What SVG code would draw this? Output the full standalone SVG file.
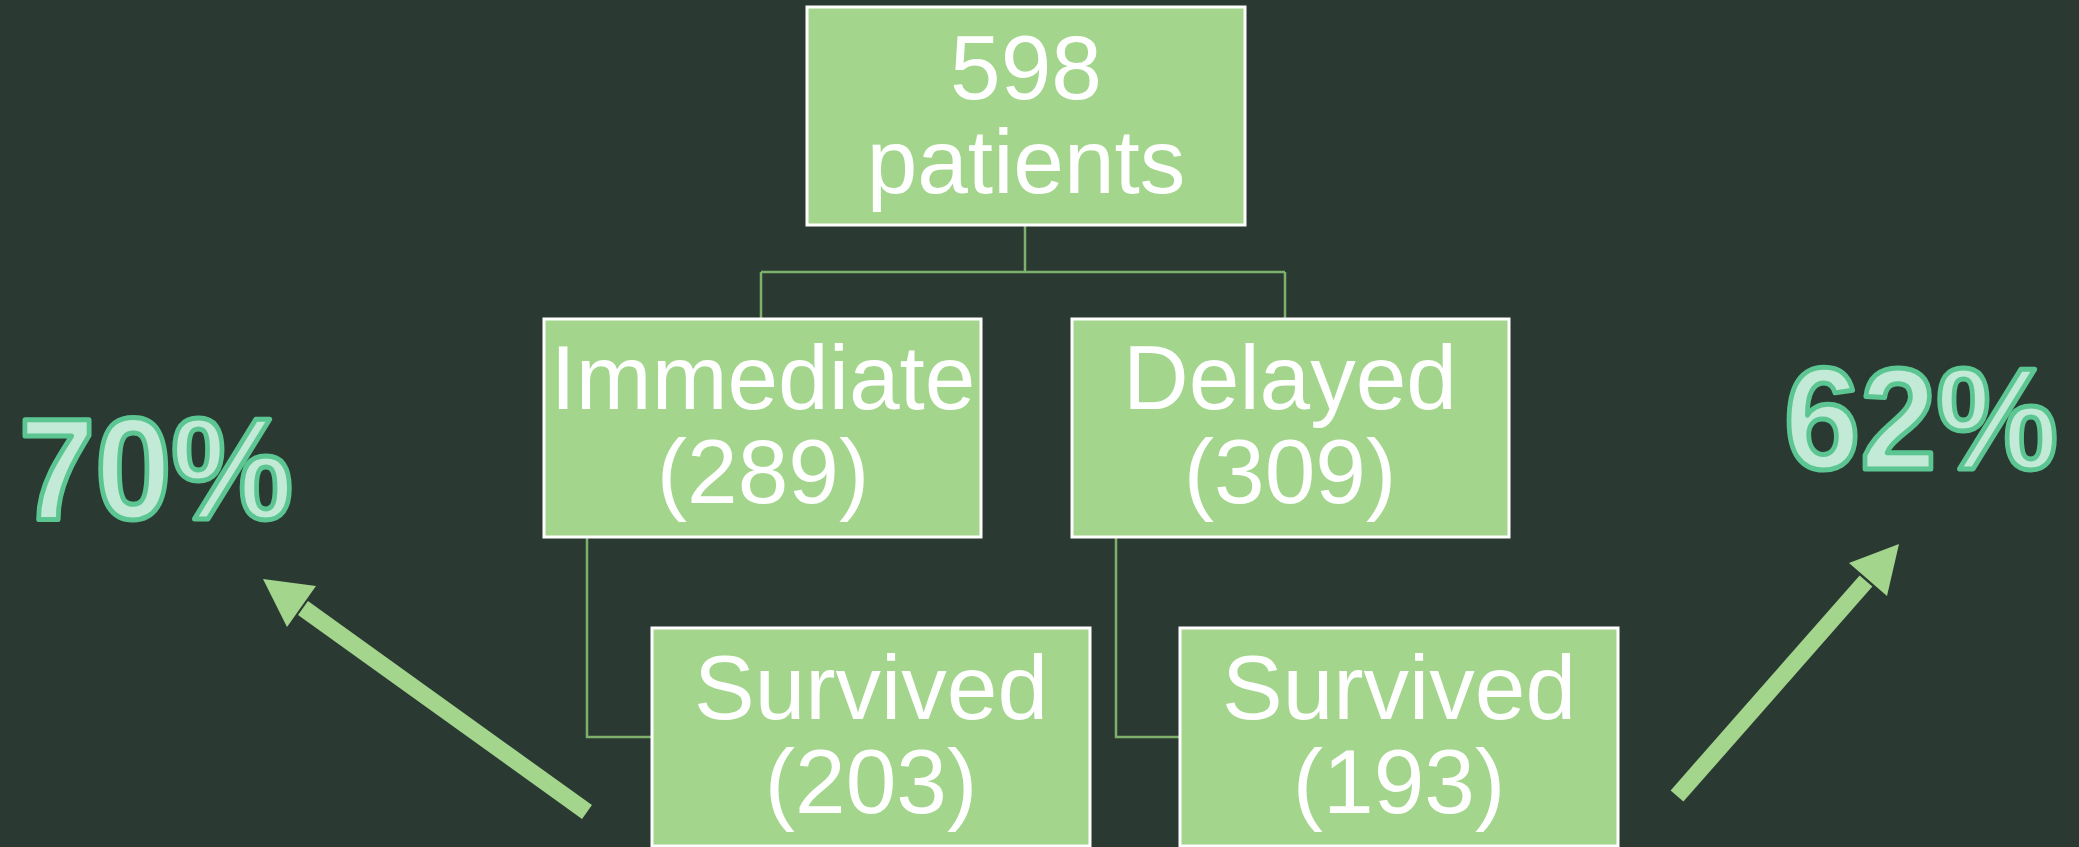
<svg xmlns="http://www.w3.org/2000/svg" width="2079" height="847" viewBox="0 0 2079 847">
<style>
.box{fill:#a3d68c;stroke:#ffffff;stroke-width:3}
.t{font-family:"Liberation Sans",Arial,sans-serif;font-size:91px;fill:#ffffff;text-anchor:middle}
.pct{font-family:"Liberation Sans",Arial,sans-serif;font-weight:bold;font-size:145px;fill:#c2ead6;stroke:#5cc693;stroke-width:5;stroke-linejoin:round}
.conn{fill:none;stroke:#7fb06b;stroke-width:2.5}
.arr{stroke:#a3d68c;stroke-width:17;stroke-linecap:butt;fill:none}
.head{fill:#a3d68c}
</style>
<rect width="2079" height="847" fill="#2a3a33"/>
<g id="connectors">
<path class="conn" d="M1025 225 V272 M761 272 H1285 M761 272 V318 M1285 272 V318"/>
<path class="conn" d="M587 537 V737 H652"/>
<path class="conn" d="M1116 537 V737 H1180"/>
</g>
<g id="node-total">
<rect class="box" x="807" y="7" width="438" height="218"/>
<text class="t" x="1026" y="99">598</text>
<text class="t" x="1026" y="193">patients</text>
</g>
<g id="node-immediate">
<rect class="box" x="544" y="319" width="437" height="218"/>
<text class="t" x="763" y="409">Immediate</text>
<text class="t" x="763" y="503">(289)</text>
</g>
<g id="node-delayed">
<rect class="box" x="1072" y="319" width="437" height="218"/>
<text class="t" x="1290" y="409">Delayed</text>
<text class="t" x="1290" y="503">(309)</text>
</g>
<g id="node-survived-immediate">
<rect class="box" x="652" y="628" width="438" height="218"/>
<text class="t" x="871" y="719">Survived</text>
<text class="t" x="871" y="813">(203)</text>
</g>
<g id="node-survived-delayed">
<rect class="box" x="1180" y="628" width="438" height="218"/>
<text class="t" x="1399" y="719">Survived</text>
<text class="t" x="1399" y="813">(193)</text>
</g>
<g id="pct-left">
<text class="pct" x="19" y="519" textLength="274" lengthAdjust="spacingAndGlyphs">70%</text>
</g>
<g id="pct-right">
<text class="pct" x="1784" y="469" textLength="274" lengthAdjust="spacingAndGlyphs">62%</text>
</g>
<g id="arrows">
<line class="arr" x1="587" y1="812" x2="303" y2="608"/>
<polygon class="head" points="263,579 316,586 287,627"/>
<line class="arr" x1="1677" y1="796" x2="1866" y2="581"/>
<polygon class="head" points="1899,544 1849,563 1887,596"/>
</g>
</svg>
